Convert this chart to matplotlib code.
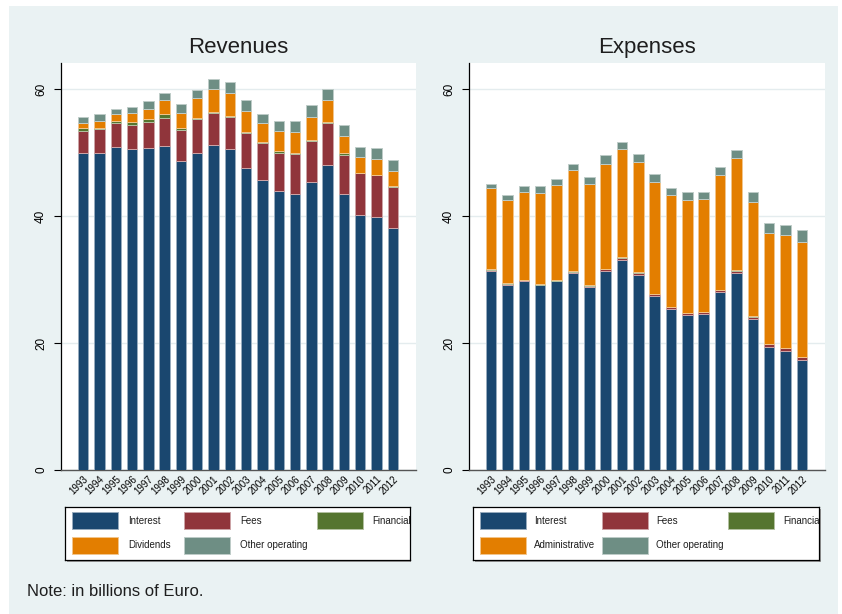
#!/usr/bin/env python3
import numpy as np
import matplotlib
matplotlib.use("Agg")
import matplotlib.pyplot as plt
from matplotlib.patches import Rectangle
from matplotlib.colors import to_rgb

plt.rcParams["font.family"] = ["Liberation Sans", "DejaVu Sans"]

years = [str(y) for y in range(1993, 2013)]

# Revenues, billions of Euro
rev_interest = [50.0, 50.0, 50.9, 50.6, 50.7, 51.1, 48.6, 49.9, 51.2, 50.5,
                47.6, 45.6, 44.0, 43.5, 45.3, 48.1, 43.4, 40.2, 39.9, 38.1]
rev_fees = [3.4, 3.7, 3.7, 3.8, 4.1, 4.4, 4.9, 5.4, 5.1, 5.1,
            5.5, 5.9, 6.0, 6.2, 6.5, 6.5, 6.2, 6.5, 6.5, 6.5]
rev_financial = [0.5, 0.1, 0.3, 0.4, 0.5, 0.5, 0.3, 0.2, 0.15, 0.1,
                 0.2, 0.2, 0.2, 0.2, 0.15, 0.15, 0.25, 0.1, 0.05, 0.1]
rev_dividends = [0.8, 1.2, 1.1, 1.4, 1.6, 2.2, 2.5, 3.1, 3.5, 3.6,
                 3.2, 2.9, 3.2, 3.4, 3.6, 3.5, 2.8, 2.5, 2.6, 2.4]
rev_other = [0.9, 1.1, 0.9, 1.0, 1.2, 1.2, 1.3, 1.2, 1.7, 1.8,
             1.7, 1.5, 1.6, 1.7, 1.9, 1.8, 1.7, 1.5, 1.6, 1.7]

# Expenses, billions of Euro
exp_interest = [31.4, 29.2, 29.8, 29.1, 29.7, 31.1, 28.9, 31.3, 33.1, 30.7,
                27.4, 25.4, 24.4, 24.5, 28.0, 31.0, 23.8, 19.4, 18.8, 17.4]
exp_fees = [0.15, 0.1, 0.1, 0.1, 0.1, 0.15, 0.1, 0.3, 0.25, 0.25,
            0.25, 0.3, 0.35, 0.4, 0.35, 0.4, 0.35, 0.4, 0.4, 0.35]
exp_financial = [0.1, 0.1, 0.05, 0.05, 0.05, 0.05, 0.1, 0.05, 0.15, 0.2,
                 0.05, 0.05, 0.05, 0.05, 0.05, 0.05, 0.05, 0.05, 0.05, 0.05]
exp_admin = [12.7, 13.2, 13.9, 14.4, 15.1, 15.9, 16.0, 16.6, 17.0, 17.4,
             17.6, 17.5, 17.8, 17.7, 18.1, 17.7, 18.0, 17.5, 17.7, 18.1]
exp_other = [0.7, 0.7, 0.8, 1.0, 0.95, 1.05, 1.05, 1.3, 1.1, 1.15,
             1.35, 1.2, 1.25, 1.2, 1.2, 1.3, 1.6, 1.6, 1.7, 1.85]

rev_labels = ["Interest", "Fees", "Financial", "Dividends", "Other operating"]
exp_labels = ["Interest", "Fees", "Financial", "Administrative", "Other operating"]
colors = ["#1a476f", "#90353b", "#55752f", "#e37e00", "#6e8e84"]

BG = "#eaf2f3"
W, H = 842, 614


def lighten(c, amt=0.5):
    r, g, b = to_rgb(c)
    return (r + (1 - r) * amt, g + (1 - g) * amt, b + (1 - b) * amt)


def px_axes(fig, x0, y0, x1, y1):
    return fig.add_axes([x0 / W, 1 - y1 / H, (x1 - x0) / W, (y1 - y0) / H])


def stacked_panel(ax, title, series):
    x = np.arange(len(years))
    bottom = np.zeros(len(years))
    for vals, col in zip(series, colors):
        vals = np.array(vals)
        ax.bar(x, vals, bottom=bottom, width=0.64, color=col,
               edgecolor=lighten(col, 0.55), linewidth=0.7, zorder=3)
        bottom += vals

    ax.set_xlim(-1.36, 20.42)
    ax.set_ylim(0, 64.1)
    ax.set_yticks([0, 20, 40, 60])
    ax.set_yticklabels(["0", "20", "40", "60"], rotation=90, va="center",
                       fontsize=8.5)
    ax.tick_params(axis="y", length=5, width=0.8, pad=5)
    ax.set_xticks(x)
    ax.set_xticklabels(years, rotation=45, ha="right", va="top",
                       rotation_mode="anchor", fontsize=7)
    ax.tick_params(axis="x", length=0, pad=3)
    ax.grid(axis="y", color="#e4ecee", linewidth=1.0, zorder=0)
    for s in ["top", "right"]:
        ax.spines[s].set_visible(False)
    ax.spines["left"].set_color("black")
    ax.spines["left"].set_linewidth(0.9)
    ax.spines["bottom"].set_color("#555555")
    ax.spines["bottom"].set_linewidth(1.0)
    ax.set_title(title, fontsize=16, pad=7, color="#1e1e1e")


def legend_box(fig, x0, x1, labels, sw_x, txt_x):
    lw, lh = x1 - x0, 53
    # drop shadow
    sh = px_axes(fig, x0 + 1.5, 507 + 1.5, x1 + 1.5, 560 + 1.5)
    sh.set_facecolor("#9a9a9a")
    sh.set_xticks([])
    sh.set_yticks([])
    for s in sh.spines.values():
        s.set_visible(False)
    lg = px_axes(fig, x0, 507, x1, 560)
    lg.set_xlim(0, lw)
    lg.set_ylim(lh, 0)
    lg.set_xticks([])
    lg.set_yticks([])
    lg.set_facecolor("white")
    for s in lg.spines.values():
        s.set_color("black")
        s.set_linewidth(0.9)
    rows = [(5, 22), (30, 47)]
    for i, (lab, col) in enumerate(zip(labels, colors)):
        r, c = divmod(i, 3)
        y0, y1 = rows[r]
        lg.add_patch(Rectangle((sw_x[c], y0), 46, y1 - y0, facecolor=col,
                               edgecolor=lighten(col, 0.55), linewidth=0.7))
        lg.text(txt_x[c], (y0 + y1) / 2, lab, fontsize=7, va="center",
                ha="left", color="#1e1e1e", clip_on=True)


def main():
    fig = plt.figure(figsize=(W / 100, H / 100), dpi=100)
    fig.patch.set_facecolor("white")
    fig.patches.append(Rectangle((9 / W, 0), (838 - 9) / W, 1 - 6 / H,
                                 transform=fig.transFigure, facecolor=BG,
                                 edgecolor="none", zorder=-10))

    ax1 = px_axes(fig, 61, 63, 416, 470)
    stacked_panel(ax1, "Revenues",
                  [rev_interest, rev_fees, rev_financial, rev_dividends, rev_other])
    ax2 = px_axes(fig, 469, 63, 825, 470)
    stacked_panel(ax2, "Expenses",
                  [exp_interest, exp_fees, exp_financial, exp_admin, exp_other])

    legend_box(fig, 65, 410, rev_labels, [7, 119, 252], [63, 175, 307])
    legend_box(fig, 473, 819, exp_labels, [7, 129, 255], [61, 183, 310])

    fig.text(27 / W, 1 - 592 / H, "Note: in billions of Euro.", fontsize=12,
             va="center", ha="left", color="#1e1e1e")

    fig.savefig("out.png", dpi=100, facecolor=fig.get_facecolor())


if __name__ == "__main__":
    main()
